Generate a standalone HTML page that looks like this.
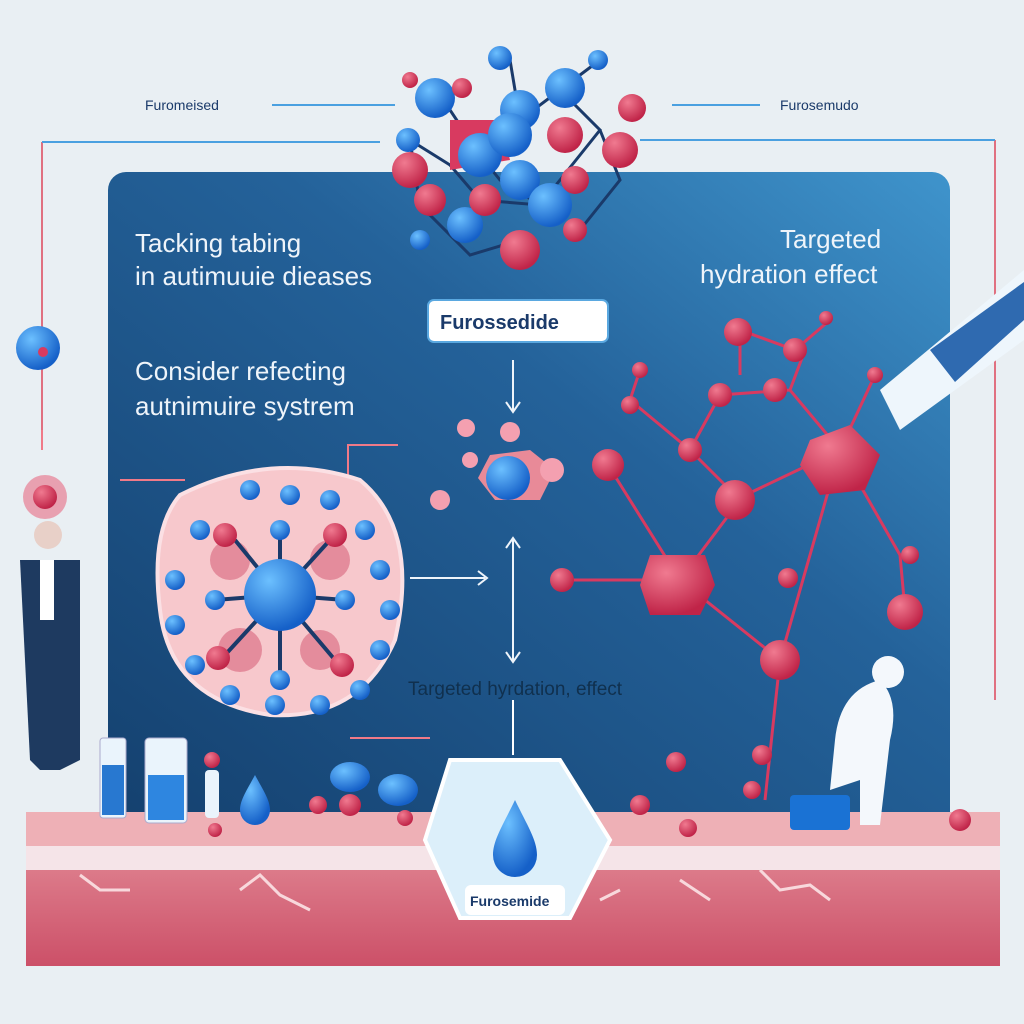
<!DOCTYPE html><html><head><style>body{margin:0;background:#e9eff3}svg{display:block}text{font-family:"Liberation Sans",sans-serif}</style></head><body>
<svg width="1024" height="1024" viewBox="0 0 1024 1024">
<defs>
<linearGradient id="pg" x1="0" y1="1" x2="1" y2="0"><stop offset="0" stop-color="#14406e"/><stop offset="0.6" stop-color="#24629a"/><stop offset="1" stop-color="#3f94cc"/></linearGradient>
<linearGradient id="sk" x1="0" y1="0" x2="0" y2="1"><stop offset="0" stop-color="#e6949e"/><stop offset="1" stop-color="#cc5068"/></linearGradient>
<radialGradient id="bl" cx=".35" cy=".3" r=".7"><stop offset="0" stop-color="#6cc0ff"/><stop offset="1" stop-color="#1560c8"/></radialGradient>
<radialGradient id="rd" cx=".35" cy=".3" r=".7"><stop offset="0" stop-color="#f07a90"/><stop offset="1" stop-color="#c02448"/></radialGradient>
</defs>
<rect width="1024" height="1024" fill="#e9eff3"/>
<rect x="108" y="172" width="842" height="660" rx="18" fill="url(#pg)"/>
<text x="145" y="110" font-size="14" fill="#1a3a6a">Furomeised</text>
<text x="780" y="110" font-size="14" fill="#1a3a6a">Furosemudo</text>
<path d="M272 105H395M672 105H760" stroke="#4aa0e0" stroke-width="2" fill="none"/>
<path d="M42 142V450M995 140V700" stroke="#e07080" stroke-width="2" fill="none"/>
<path d="M42 142H380M640 140H995" stroke="#4aa0e0" stroke-width="2" fill="none"/>
<rect x="26" y="812" width="974" height="154" fill="url(#sk)"/>
<rect x="26" y="812" width="974" height="34" fill="#eeb0b6"/>
<rect x="26" y="846" width="974" height="24" fill="#f5e4e8"/>
<path d="M80 875l20 15 30 0M240 890l20-15 20 20 30 15M600 900l20-10M680 880l30 20M760 870l20 20 30-5 20 15" stroke="#f8d8dc" stroke-width="3" fill="none"/>
<path d="M450 760H560L610 840L570 918H460L425 840Z" fill="#dceffa" stroke="#fff" stroke-width="4"/>
<path d="M515 800c-12 25-22 40-22 55a22 22 0 0 0 44 0c0-15-10-30-22-55z" fill="url(#bl)"/>
<rect x="465" y="885" width="100" height="30" rx="6" fill="#fff"/>
<text x="470" y="906" font-size="14" font-weight="bold" fill="#1a3a6a">Furosemide</text>
<line x1="513" y1="700" x2="513" y2="755" stroke="#fff" stroke-width="2"/>
<g fill="#eef4fa" font-size="26">
<text x="135" y="252">Tacking tabing</text>
<text x="135" y="285">in autimuuie dieases</text>
<text x="780" y="248">Targeted</text>
<text x="700" y="283">hydration  effect</text>
<text x="135" y="380">Consider refecting</text>
<text x="135" y="415">autnimuire systrem</text>
</g>
<text x="408" y="695" font-size="19" fill="#10304e">Targeted hyrdation, effect</text>
<rect x="428" y="300" width="180" height="42" rx="6" fill="#fff" stroke="#5aa8e0" stroke-width="2"/>
<text x="440" y="329" font-size="20" font-weight="bold" fill="#1a3a6a">Furossedide</text>
<g stroke="#eef4fa" stroke-width="2" fill="none"><path d="M513 360V410M513 540V660M410 578H485"/><path d="M506 402l7 10 7-10M506 548l7-10 7 10M506 652l7 10 7-10M478 571l9 7-9 7"/></g>
<path d="M348 490V445H398M350 738H430M120 480H185M42 430V450" stroke="#f07a88" stroke-width="2" fill="none"/>
<g stroke="#1a3a6a" stroke-width="3" fill="none">
<path d="M440 95L480 155L520 120L560 90L600 130L540 205L480 200L450 165L410 140L420 205L470 255L520 240M480 155L500 180L540 205M520 120L510 60M600 130L620 180L580 230M560 90L600 60"/>
</g>
<path d="M450 120l50 0 10 40-60 10z" fill="#d83a60"/>
<g fill="url(#bl)"><circle cx="435" cy="98" r="20"/><circle cx="480" cy="155" r="22"/><circle cx="520" cy="110" r="20"/><circle cx="565" cy="88" r="20"/><circle cx="510" cy="135" r="22"/><circle cx="520" cy="180" r="20"/><circle cx="550" cy="205" r="22"/><circle cx="408" cy="140" r="12"/><circle cx="500" cy="58" r="12"/><circle cx="420" cy="240" r="10"/><circle cx="598" cy="60" r="10"/><circle cx="465" cy="225" r="18"/></g>
<g fill="url(#rd)"><circle cx="410" cy="170" r="18"/><circle cx="430" cy="200" r="16"/><circle cx="485" cy="200" r="16"/><circle cx="565" cy="135" r="18"/><circle cx="620" cy="150" r="18"/><circle cx="632" cy="108" r="14"/><circle cx="575" cy="180" r="14"/><circle cx="520" cy="250" r="20"/><circle cx="575" cy="230" r="12"/><circle cx="462" cy="88" r="10"/><circle cx="410" cy="80" r="8"/></g>
<polygon points="490,455 530,450 555,470 540,500 495,500 478,478" fill="#e88a98"/>
<circle cx="508" cy="478" r="22" fill="url(#bl)"/>
<g fill="#f4a0b0"><circle cx="466" cy="428" r="9"/><circle cx="510" cy="432" r="10"/><circle cx="552" cy="470" r="12"/><circle cx="440" cy="500" r="10"/><circle cx="470" cy="460" r="8"/></g>
<path d="M180 495Q270 450 360 480Q420 530 395 640Q360 720 270 715Q170 700 160 610Q150 530 180 495z" fill="#f7c8cc" stroke="#fbe0e4" stroke-width="4"/>
<g fill="#e48c9c"><circle cx="230" cy="560" r="20"/><circle cx="330" cy="560" r="20"/><circle cx="240" cy="650" r="22"/><circle cx="320" cy="650" r="20"/></g>
<g stroke="#1a3a6a" stroke-width="4"><path d="M280 595L235 540M280 595L330 540M280 595L225 655M280 595L335 660M280 595L280 530M280 595L280 680M280 595L215 600M280 595L345 600"/></g>
<circle cx="280" cy="595" r="36" fill="url(#bl)"/>
<g fill="url(#bl)"><circle cx="200" cy="530" r="10"/><circle cx="250" cy="490" r="10"/><circle cx="290" cy="495" r="10"/><circle cx="330" cy="500" r="10"/><circle cx="365" cy="530" r="10"/><circle cx="380" cy="570" r="10"/><circle cx="390" cy="610" r="10"/><circle cx="380" cy="650" r="10"/><circle cx="360" cy="690" r="10"/><circle cx="320" cy="705" r="10"/><circle cx="275" cy="705" r="10"/><circle cx="230" cy="695" r="10"/><circle cx="195" cy="665" r="10"/><circle cx="175" cy="625" r="10"/><circle cx="175" cy="580" r="10"/><circle cx="280" cy="680" r="10"/><circle cx="215" cy="600" r="10"/><circle cx="345" cy="600" r="10"/><circle cx="280" cy="530" r="10"/></g>
<g fill="url(#rd)"><circle cx="225" cy="535" r="12"/><circle cx="335" cy="535" r="12"/><circle cx="218" cy="658" r="12"/><circle cx="342" cy="665" r="12"/></g>
<g stroke="#d83a60" stroke-width="3" fill="none"><path d="M608 465L680 580L740 500L690 450L720 395L790 390L840 450L735 500M680 580L780 660L840 450L900 555L905 610M780 660L765 800M680 580L560 580M740 375L740 330L795 350L830 320M690 450L630 400L640 370M790 390L805 350M840 450L875 375"/></g>
<polygon points="650,555 705,555 715,585 700,615 650,615 640,585" fill="url(#rd)"/>
<polygon points="810,440 850,425 880,455 865,490 820,495 800,465" fill="url(#rd)"/>
<g fill="url(#rd)"><circle cx="608" cy="465" r="16"/><circle cx="735" cy="500" r="20"/><circle cx="690" cy="450" r="12"/><circle cx="720" cy="395" r="12"/><circle cx="775" cy="390" r="12"/><circle cx="738" cy="332" r="14"/><circle cx="795" cy="350" r="12"/><circle cx="630" cy="405" r="9"/><circle cx="640" cy="370" r="8"/><circle cx="826" cy="318" r="7"/><circle cx="875" cy="375" r="8"/><circle cx="780" cy="660" r="20"/><circle cx="905" cy="612" r="18"/><circle cx="910" cy="555" r="9"/><circle cx="562" cy="580" r="12"/><circle cx="788" cy="578" r="10"/><circle cx="762" cy="755" r="10"/><circle cx="676" cy="762" r="10"/><circle cx="640" cy="805" r="10"/><circle cx="688" cy="828" r="9"/><circle cx="960" cy="820" r="11"/><circle cx="752" cy="790" r="9"/></g>
<path d="M900 430L1024 340V270L880 390Z" fill="#eef6fc"/>
<path d="M930 350L1024 282V320L955 382Z" fill="#2f6ab0"/>
<path d="M835 740Q840 690 880 680Q900 700 890 740L880 825H860L860 780L830 790Z" fill="#f4f8fc"/>
<circle cx="888" cy="672" r="16" fill="#f4f8fc"/>
<rect x="790" y="795" width="60" height="35" rx="4" fill="#1a72d4"/>
<path d="M20 560H80V760L60 770H40L30 760Z" fill="#1e3a60"/>
<circle cx="48" cy="535" r="14" fill="#e8d0c8"/>
<rect x="40" y="560" width="14" height="60" fill="#fff"/>
<circle cx="38" cy="348" r="22" fill="url(#bl)"/><circle cx="43" cy="352" r="5" fill="#d83a60"/>
<circle cx="45" cy="497" r="22" fill="#e8a0b0"/><circle cx="45" cy="497" r="12" fill="url(#rd)"/>
<rect x="100" y="738" width="26" height="80" rx="3" fill="#eaf4fc" stroke="#aac" /><rect x="102" y="765" width="22" height="50" fill="#2878d0"/>
<rect x="145" y="738" width="42" height="85" rx="4" fill="#eaf4fc" stroke="#aac"/><rect x="148" y="775" width="36" height="45" fill="#2e86e0"/>
<rect x="205" y="770" width="14" height="48" rx="4" fill="#eaf4fc"/><circle cx="212" cy="760" r="8" fill="url(#rd)"/>
<path d="M255 775c-8 15-15 25-15 35a15 15 0 0 0 30 0c0-10-7-20-15-35z" fill="url(#bl)"/>
<ellipse cx="350" cy="777" rx="20" ry="15" fill="url(#bl)"/><ellipse cx="398" cy="790" rx="20" ry="16" fill="url(#bl)"/>
<g fill="url(#rd)"><circle cx="318" cy="805" r="9"/><circle cx="350" cy="805" r="11"/><circle cx="405" cy="818" r="8"/><circle cx="215" cy="830" r="7"/></g>
</svg></body></html>
